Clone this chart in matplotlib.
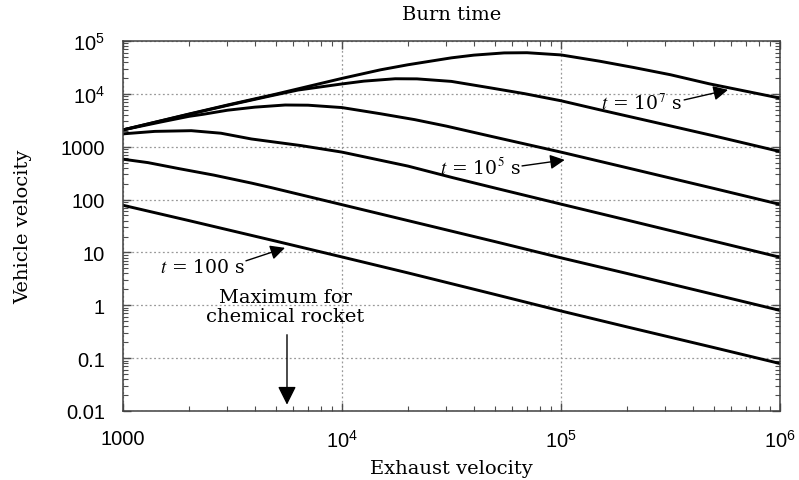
import matplotlib.pyplot as plt
from matplotlib.ticker import FixedLocator, FixedFormatter, LogLocator, NullFormatter

# burn times (s) and curves: exhaust velocity -> vehicle velocity
burn_times = [100, 1e3, 1e4, 1e5, 1e6, 1e7]

u_100 = [1e3, 2e3, 5e3, 1e4, 2e4, 5e4, 1e5, 2e5, 5e5, 1e6]
v_100 = [78, 40, 16.3, 8.2, 4.1, 1.6, 0.78, 0.39, 0.158, 0.079]

u_1e3 = [1e3, 1.3e3, 1.8e3, 2.6e3, 3.86e3, 4.76e3, 1e4, 2e4, 5e4, 1e5, 2e5, 5e5, 1e6]
v_1e3 = [580, 500, 385, 290, 205, 168, 80, 40, 16, 7.9, 4.0, 1.6, 0.8]

u_1e4 = [1e3, 1.4e3, 2.05e3, 2.8e3, 3.86e3, 6.5e3, 1e4, 2e4, 3.2e4, 5e4, 1e5, 2e5, 5e5, 1e6]
v_1e4 = [1750, 1950, 2010, 1800, 1400, 1050, 790, 430, 260, 165, 82, 41, 16.3, 8.1]

u_1e5 = [1e3, 1.5e3, 2e3, 2.32e3, 3e3, 4e3, 5.5e3, 7e3, 1e4, 1.5e4, 2.15e4, 3e4, 4.8e4, 1e5, 2e5, 5e5, 1e6]
v_1e5 = [2080, 2950, 3750, 4100, 4900, 5600, 6150, 6100, 5500, 4200, 3250, 2450, 1570, 790, 400, 162, 81]

u_1e6 = [1e3, 2e3, 3e3, 4.75e3, 6.3e3, 1e4, 1.26e4, 1.75e4, 2.2e4, 3.16e4, 4.75e4, 6.8e4, 1e5, 1.5e5, 3e5, 5e5, 1e6]
v_1e6 = [2080, 4100, 6050, 9200, 11800, 15400, 17400, 19300, 19200, 17200, 13000, 10100, 7400, 5000, 2600, 1600, 810]

u_1e7 = [1e3, 2e3, 3e3, 5e3, 7e3, 1e4, 1.5e4, 2e4, 3.16e4, 4e4, 5.5e4, 7e4, 1e5, 1.5e5, 2.15e5, 3.16e5, 4.75e5, 1e6]
v_1e7 = [2080, 4150, 6150, 9900, 13800, 19600, 28500, 35500, 48000, 54000, 59500, 60000, 54500, 41500, 31500, 23000, 15500, 8300]

x_ticks = [1e3, 1e4, 1e5, 1e6]
x_labels = ["1000", r"$\mathregular{10^{4}}$", r"$\mathregular{10^{5}}$", r"$\mathregular{10^{6}}$"]
y_ticks = [1e-2, 1e-1, 1, 10, 100, 1e3, 1e4, 1e5]
y_labels = ["0.01", "0.1", "1", "10", "100", "1000", r"$\mathregular{10^{4}}$", r"$\mathregular{10^{5}}$"]

plt.rcParams['mathtext.fontset'] = 'stix'
serif = 'DejaVu Serif'
sans = 'Liberation Sans'

fig = plt.figure(figsize=(7.99, 4.81), dpi=100)
ax = fig.add_axes([0.1539, 0.1435, 0.8223, 0.7692])

curves = [(u_100, v_100), (u_1e3, v_1e3), (u_1e4, v_1e4),
          (u_1e5, v_1e5), (u_1e6, v_1e6), (u_1e7, v_1e7)]
for u, v in curves:
    ax.plot(u, v, color="black", linewidth=2.1, solid_joinstyle="round")

ax.set_xscale("log")
ax.set_yscale("log")
ax.set_xlim(1e3, 1e6)
ax.set_ylim(1e-2, 1e5)

ax.xaxis.set_major_locator(FixedLocator(x_ticks))
ax.xaxis.set_major_formatter(FixedFormatter(x_labels))
ax.yaxis.set_major_locator(FixedLocator(y_ticks))
ax.yaxis.set_major_formatter(FixedFormatter(y_labels))
ax.xaxis.set_minor_locator(LogLocator(base=10, subs=range(2, 10), numticks=20))
ax.yaxis.set_minor_locator(LogLocator(base=10, subs=range(2, 10), numticks=20))
ax.xaxis.set_minor_formatter(NullFormatter())
ax.yaxis.set_minor_formatter(NullFormatter())

ax.tick_params(which="both", direction="in", top=True, right=True, color="0.3")
ax.tick_params(which="major", length=6, width=1, pad=13)
ax.tick_params(which="minor", length=3.5, width=0.8)
for lab in ax.get_xticklabels() + ax.get_yticklabels():
    lab.set_fontfamily(sans)
    lab.set_fontsize(14.5)
for sp in ax.spines.values():
    sp.set_linewidth(1.1)
    sp.set_color("0.25")

ax.grid(True, which="major", linestyle=(0, (1.5, 2)), color="0.6", linewidth=0.9)

ax.set_xlabel("Exhaust velocity", fontfamily=serif, fontsize=14, labelpad=6)
ax.set_ylabel("Vehicle velocity", fontfamily=serif, fontsize=14, labelpad=20)
ax.set_title("Burn time", fontfamily=serif, fontsize=14, pad=16)

arrow = dict(arrowstyle="-|>", color="black", lw=1.0, mutation_scale=22,
             shrinkA=0, shrinkB=0)

ax.text(2318, 5.35, r"$\mathit{t}$ = 100 s", fontfamily=serif, fontsize=13.5,
        ha="center", va="center")
ax.annotate("", xy=(5495, 12.2), xytext=(3644, 6.93), arrowprops=arrow)

ax.text(4.27e4, 415, r"$\mathit{t}$ = 10$^{5}$ s", fontfamily=serif, fontsize=13.5,
        ha="center", va="center")
ax.annotate("", xy=(1.04e5, 562), xytext=(6.64e4, 433), arrowprops=arrow)

ax.text(2.34e5, 6730, r"$\mathit{t}$ = 10$^{7}$ s", fontfamily=serif, fontsize=13.5,
        ha="center", va="center")
ax.annotate("", xy=(5.79e5, 1.19e4), xytext=(3.65e5, 7670), arrowprops=arrow)

ax.text(5495, 0.957, "Maximum for\nchemical rocket", fontfamily=serif, fontsize=14,
        ha="center", va="center", linespacing=1.05)
ax.annotate("", xy=(5610, 0.01315), xytext=(5610, 0.277),
            arrowprops=dict(arrowstyle="-|>", color="black", lw=1.0,
                            mutation_scale=28, shrinkA=0, shrinkB=0))

fig.savefig("out.png", dpi=100)
